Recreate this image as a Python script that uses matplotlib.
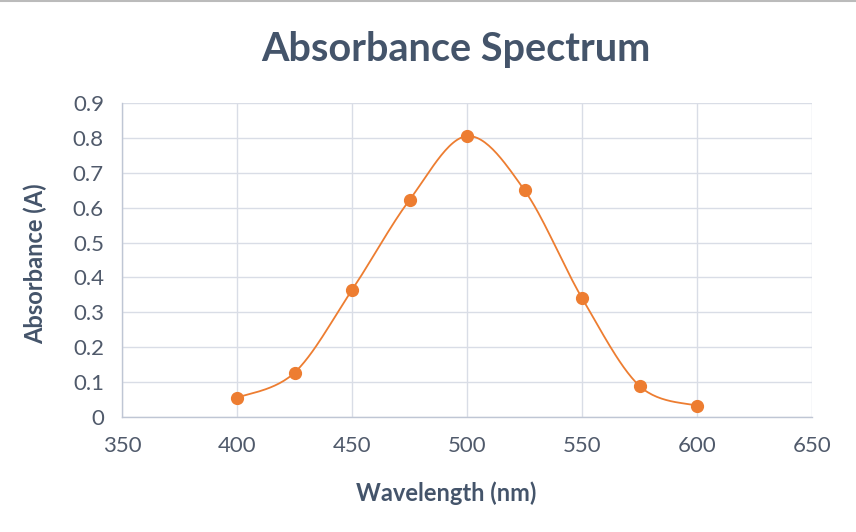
import numpy as np
import matplotlib.pyplot as plt

# ---------------- data ----------------
wavelength = [400, 425, 450, 475, 500, 525, 550, 575, 600]
absorbance = [0.055, 0.127, 0.364, 0.622, 0.805, 0.650, 0.341, 0.089, 0.032]

x_ticks = [350, 400, 450, 500, 550, 600, 650]
y_ticks = [0, 0.1, 0.2, 0.3, 0.4, 0.5, 0.6, 0.7, 0.8, 0.9]
y_tick_labels = ["0", "0.1", "0.2", "0.3", "0.4", "0.5", "0.6", "0.7", "0.8", "0.9"]

TXT = "#44546A"
TICK = "#505A6B"
ORANGE = "#ED7D31"
GRID = "#D9DDE6"

plt.rcParams['font.family'] = ['Lato', 'DejaVu Sans']


def smooth(xs, ys, n=30):
    # excel style smoothed line (catmull-rom as cubic bezier)
    px = [xs[0]] + list(xs) + [xs[-1]]
    py = [ys[0]] + list(ys) + [ys[-1]]
    outx, outy = [], []
    t = np.linspace(0, 1, n)
    for i in range(1, len(px) - 2):
        x0, x1, x2, x3 = px[i - 1], px[i], px[i + 1], px[i + 2]
        y0, y1, y2, y3 = py[i - 1], py[i], py[i + 1], py[i + 2]
        c1x, c1y = x1 + (x2 - x0) / 6, y1 + (y2 - y0) / 6
        c2x, c2y = x2 - (x3 - x1) / 6, y2 - (y3 - y1) / 6
        bx = (1 - t) ** 3 * x1 + 3 * (1 - t) ** 2 * t * c1x + 3 * (1 - t) * t ** 2 * c2x + t ** 3 * x2
        by = (1 - t) ** 3 * y1 + 3 * (1 - t) ** 2 * t * c1y + 3 * (1 - t) * t ** 2 * c2y + t ** 3 * y2
        outx.extend(bx)
        outy.extend(by)
    return outx, outy


fig = plt.figure(figsize=(8.56, 5.32), dpi=100)
ax = fig.add_axes([122 / 856, 1 - 417 / 532, (812 - 122) / 856, (417 - 103) / 532])

sx, sy = smooth(wavelength, absorbance)
ax.plot(sx, sy, color=ORANGE, linewidth=1.3, zorder=3)
ax.plot(wavelength, absorbance, 'o', color=ORANGE, markersize=8.5, zorder=4)

ax.set_xlim(350, 650)
ax.set_ylim(0, 0.9)
ax.set_xticks(x_ticks)
ax.set_yticks(y_ticks)
ax.set_yticklabels(y_tick_labels)
ax.grid(True, color=GRID, linewidth=1)
ax.set_axisbelow(True)
for s in ['top', 'right']:
    ax.spines[s].set_visible(False)
for s in ['left', 'bottom']:
    ax.spines[s].set_color("#BFC6D4")
    ax.spines[s].set_linewidth(1)
ax.tick_params(length=0, labelsize=16, colors=TICK)
ax.tick_params(axis='x', pad=14)
ax.tick_params(axis='y', pad=13)

fig.text(456 / 856, 1 - 49 / 532, "Absorbance Spectrum", ha='center', va='center',
         fontsize=28.5, fontweight='bold', color=TXT)
fig.text(446 / 856, 1 - 493 / 532, "Wavelength (nm)", ha='center', va='center',
         fontsize=17, fontweight='bold', color=TXT)
fig.text(35 / 856, 1 - 264 / 532, "Absorbance (A)", ha='center', va='center', rotation=90,
         fontsize=17, fontweight='bold', color=TXT)

fig.add_artist(plt.Line2D([0, 1], [1 - 1 / 532, 1 - 1 / 532], color="#BBBBBB", linewidth=1.5))

fig.savefig('out.png', dpi=100)
